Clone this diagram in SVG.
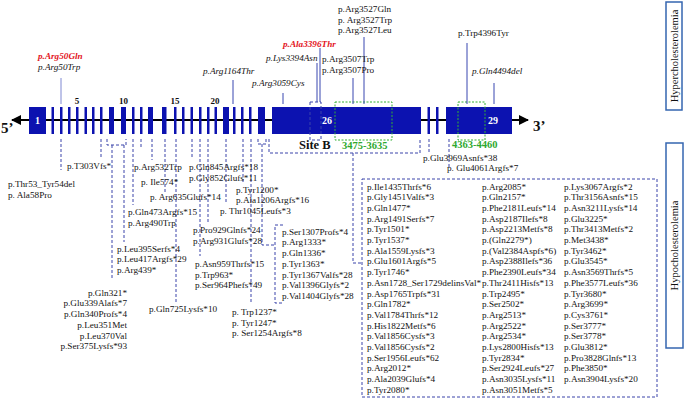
<svg xmlns="http://www.w3.org/2000/svg" width="685" height="403" viewBox="0 0 685 403">
<style>
text{font-family:"Liberation Serif","Times New Roman",serif;font-size:9.2px;fill:#111}
.i{font-style:italic}
.r{fill:#e3141c;font-weight:bold;font-style:italic}
.ex{fill:#0c12b0}
.en{fill:#fff;font-weight:bold;font-size:10px;text-anchor:middle}
.num{font-weight:bold;font-size:9px;text-anchor:middle}
.d{fill:none;stroke:#3a44aa;stroke-width:1;stroke-dasharray:3 2}
.s{stroke:#3846b0;stroke-width:1}
.g{fill:none;stroke:#33b033;stroke-width:1;stroke-dasharray:2 1.5}
.gl{fill:#2ea82e;font-weight:bold;font-size:10.5px}
.side{fill:#fff;stroke:#3566b0;stroke-width:1.5}
.sidet{font-size:10.5px;text-anchor:middle;dominant-baseline:central}
.end{font-weight:bold;font-size:15px}
</style>
<defs>
<marker id="ah" viewBox="0 0 10 10" refX="9" refY="5" markerWidth="5" markerHeight="5" orient="auto-start-reverse">
<path d="M0,0 L10,5 L0,10 z" fill="#000"/>
</marker>
</defs>

<g id="gene">
<line x1="12" y1="120" x2="528" y2="120" stroke="#000" stroke-width="2" marker-start="url(#ah)" marker-end="url(#ah)"/>
<text class="end" x="1" y="133">5’</text>
<text class="end" x="533" y="131">3’</text>
</g>

<g id="exons">
<rect class="ex" x="29" y="107" width="17" height="27"/><text class="en" x="37.5" y="124">1</text>
<rect class="ex" x="51.5" y="107" width="2.5" height="27"/>
<rect class="ex" x="60" y="107" width="2.5" height="27"/>
<rect class="ex" x="68" y="107" width="2.5" height="27"/>
<rect class="ex" x="76" y="107" width="2.5" height="27"/>
<rect class="ex" x="84.5" y="107" width="2.5" height="27"/>
<rect class="ex" x="92" y="107" width="2.5" height="27"/>
<rect class="ex" x="100" y="107" width="2.5" height="27"/>
<rect class="ex" x="109" y="107" width="5" height="27"/>
<rect class="ex" x="121" y="107" width="5" height="27"/>
<rect class="ex" x="132" y="107" width="2.5" height="27"/>
<rect class="ex" x="140" y="107" width="2.5" height="27"/>
<rect class="ex" x="148" y="107" width="5" height="27"/>
<rect class="ex" x="162" y="107" width="4.5" height="27"/>
<rect class="ex" x="174" y="107" width="2.5" height="27"/>
<rect class="ex" x="182" y="107" width="2.5" height="27"/>
<rect class="ex" x="190.5" y="107" width="2.5" height="27"/>
<rect class="ex" x="199" y="107" width="2.5" height="27"/>
<rect class="ex" x="207" y="107" width="2.5" height="27"/>
<rect class="ex" x="214.5" y="107" width="2.5" height="27"/>
<rect class="ex" x="223" y="107" width="6" height="27"/>
<rect class="ex" x="233" y="107" width="2.5" height="27"/>
<rect class="ex" x="241" y="107" width="2.5" height="27"/>
<rect class="ex" x="249" y="107" width="2.5" height="27"/>
<rect class="ex" x="258" y="107" width="7" height="27"/>
<rect class="ex" x="272" y="107" width="149" height="27"/><text class="en" x="327" y="124">26</text>
<rect class="ex" x="427.5" y="107" width="2.5" height="27"/>
<rect class="ex" x="436" y="107" width="2.5" height="27"/>
<rect class="ex" x="446" y="107" width="66" height="27"/><text class="en" x="493" y="124">29</text>
<text class="num" x="77" y="104">5</text>
<text class="num" x="123.5" y="104">10</text>
<text class="num" x="175" y="104">15</text>
<text class="num" x="215" y="104">20</text>
</g>

<g id="regions">
<rect x="310" y="102" width="11" height="38" class="d"/>
<text x="299" y="149" style="font-weight:bold;font-size:12.5px">Site B</text>
<rect x="335" y="102" width="57" height="38" class="g"/>
<text class="gl" x="342" y="149">3475-3635</text>
<rect x="458" y="102" width="27" height="38" class="g"/>
<text class="gl" x="452" y="147.5">4363-4460</text>
</g>

<g id="connectors">
<line class="s" x1="61" y1="78" x2="61" y2="104" style="stroke:#7f88d2"/>
<line class="s" x1="233" y1="80" x2="233" y2="104"/>
<line class="s" x1="283" y1="93" x2="283" y2="104"/>
<line class="s" x1="317" y1="63" x2="317" y2="102"/>
<line class="s" x1="320" y1="48" x2="320" y2="102"/>
<line class="s" x1="353" y1="78" x2="353" y2="104"/>
<line class="s" x1="364" y1="37" x2="364" y2="104"/>
<line class="s" x1="467" y1="43" x2="467" y2="104"/>
<line class="s" x1="494" y1="83" x2="494" y2="104"/>
<path class="d" d="M61,139V170"/>
<path class="d" d="M101,139V157"/>
<path class="d" d="M107,139V145H126V139M112,145V280M124,145V242"/>
<path class="d" d="M133,139V205"/>
<path class="d" d="M141,139V149"/>
<path class="d" d="M152,139V160"/>
<path class="d" d="M165,139V192"/>
<path class="d" d="M176,139V302"/>
<path class="d" d="M192,139V157"/>
<path class="d" d="M200,139V256"/>
<path class="d" d="M208,139V224"/>
<path class="d" d="M226,139V203"/>
<path class="d" d="M243,139V182"/>
<path class="d" d="M251,139V302"/>
<path class="d" d="M258,139V144H266V139M262,144V245H275"/>
<path class="d" d="M283,225H275V303H283"/>
<path class="d" d="M269,139V153H420V139"/>
<path class="d" d="M353,153V263H362"/>
<path class="d" d="M429,139V152"/>
<path class="d" d="M449,139V167"/>
</g>

<g id="hyper-variants">
<text class="r" x="38" y="58.5">p.Arg50Gln</text>
<text class="i" x="38" y="70">p.Arg50Trp</text>
<text class="i" x="203" y="73.5">p.Arg1164Thr</text>
<text class="i" x="252" y="86">p.Arg3059Cys</text>
<text class="i" x="266" y="61">p.Lys3394Asn</text>
<text class="r" x="283" y="47">p.Ala3396Thr</text>
<text x="322" y="62"><tspan x="322" y="62">p.Arg3507Trp</tspan><tspan x="322" y="73">p.Arg3507Pro</tspan></text>
<text x="338" y="12"><tspan x="338" y="12">p.Arg3527Gln</tspan><tspan x="338" y="22.5">p. Arg3527Trp</tspan><tspan x="338" y="33">p.Arg3527Leu</tspan></text>
<text x="458" y="36">p.Trp4396Tyr</text>
<text class="i" x="472" y="74">p.Gln4494del</text>
</g>

<g id="hypo-variants">
<text><tspan x="8" y="187">p.Thr53_Tyr54del</tspan><tspan x="8" y="198">p. Ala58Pro</tspan></text>
<text x="67" y="169">p.T303Vfs*</text>
<text x="134" y="170">p.Arg532Trp</text>
<text x="141" y="185">p. Ile574*</text>
<text x="150" y="200">p. Arg635Glufs*14</text>
<text><tspan x="128" y="214.5">p.Gln473Argfs*15</tspan><tspan x="128" y="225.5">p.Arg490Trp</tspan></text>
<text><tspan x="117" y="251.5">p.Leu395Serfs*4</tspan><tspan x="117" y="262">p.Leu417Argfs*29</tspan><tspan x="117" y="272.5">p.Arg439*</tspan></text>
<text style="text-anchor:end"><tspan x="127" y="295.5">p.Gln321*</tspan><tspan x="127" y="306.3">p.Glu339Alafs*7</tspan><tspan x="127" y="317">p.Gln340Profs*4</tspan><tspan x="127" y="327.8">p.Leu351Met</tspan><tspan x="127" y="338.6">p.Leu370Val</tspan><tspan x="127" y="349.4">p.Ser375Lysfs*93</tspan></text>
<text x="149" y="311.5">p.Gln725Lysfs*10</text>
<text><tspan x="189" y="170">p.Gln845Argfs*18</tspan><tspan x="189" y="181">p.Gly852Glufs*11</tspan></text>
<text><tspan x="193" y="233">p.Pro929Glnfs*24</tspan><tspan x="193" y="244">p.Arg931Glufs*28</tspan></text>
<text><tspan x="195" y="266.5">p.Asn959Thrfs*15</tspan><tspan x="195" y="277.5">p.Trp963*</tspan><tspan x="195" y="288.3">p.Ser964Phefs*49</tspan></text>
<text><tspan x="236" y="192.5">p.Tyr1200*</tspan><tspan x="236" y="203">p.Ala1206Argfs*16</tspan></text>
<text x="220" y="214">p. Thr1045Leufs*3</text>
<text><tspan x="282" y="234.5">p.Ser1307Profs*4</tspan><tspan x="282" y="245.3">p.Arg1333*</tspan><tspan x="282" y="256">p.Gln1336*</tspan><tspan x="282" y="266.8">p.Tyr1363*</tspan><tspan x="282" y="277.6">p.Tyr1367Valfs*28</tspan><tspan x="282" y="288.4">p.Val1396Glyfs*2</tspan><tspan x="282" y="299.2">p.Val1404Glyfs*28</tspan></text>
<text><tspan x="232" y="315">p. Trp1237*</tspan><tspan x="232" y="325.7">p. Tyr1247*</tspan><tspan x="232" y="336.4">p. Ser1254Argfs*8</tspan></text>
<text x="423" y="160.5">p.Glu3969Asnfs*38</text>
<text x="447" y="171">p. Glu4061Argfs*7</text>
</g>

<g id="truncating-box">
<rect x="362" y="179" width="295" height="218" class="d"/>
<text><tspan x="367" y="189.5">p.Ile1435Thrfs*6</tspan><tspan x="367" y="200.2">p.Gly1451Valfs*3</tspan><tspan x="367" y="210.9">p.Gln1477*</tspan><tspan x="367" y="221.6">p.Arg1491Serfs*7</tspan><tspan x="367" y="232.3">p.Tyr1501*</tspan><tspan x="367" y="243">p.Tyr1537*</tspan><tspan x="367" y="253.7">p.Ala1559Lysfs*3</tspan><tspan x="367" y="264.4">p.Glu1601Argfs*5</tspan><tspan x="367" y="275.1">p.Tyr1746*</tspan><tspan x="367" y="285.8">p.Asn1728_Ser1729delinsVal*</tspan><tspan x="367" y="296.5">p.Asp1765Trpfs*31</tspan><tspan x="367" y="307.2">p.Gln1782*</tspan><tspan x="367" y="317.9">p.Val1784Thrfs*12</tspan><tspan x="367" y="328.6">p.His1822Metfs*6</tspan><tspan x="367" y="339.3">p.Val1856Cysfs*3</tspan><tspan x="367" y="350">p.Val1856Cysfs*2</tspan><tspan x="367" y="360.7">p.Ser1956Leufs*62</tspan><tspan x="367" y="371.4">p.Arg2012*</tspan><tspan x="367" y="382.1">p.Ala2039Glufs*4</tspan><tspan x="367" y="392.8">p.Tyr2080*</tspan></text>
<text><tspan x="482" y="189.5">p.Arg2085*</tspan><tspan x="482" y="200.2">p.Gln2157*</tspan><tspan x="482" y="210.9">p.Phe2181Leufs*14</tspan><tspan x="482" y="221.6">p.Asp2187Ilefs*8</tspan><tspan x="482" y="232.3">p.Asp2213Metfs*8</tspan><tspan x="482" y="243">p.(Gln2279*)</tspan><tspan x="482" y="253.7">p.(Val2384Aspfs*6)</tspan><tspan x="482" y="264.4">p.Asp2388Ilefs*36</tspan><tspan x="482" y="275.1">p.Phe2390Leufs*34</tspan><tspan x="482" y="285.8">p.Thr2411Hisfs*13</tspan><tspan x="482" y="296.5">p.Trp2495*</tspan><tspan x="482" y="307.2">p.Ser2502*</tspan><tspan x="482" y="317.9">p.Arg2513*</tspan><tspan x="482" y="328.6">p.Arg2522*</tspan><tspan x="482" y="339.3">p.Arg2534*</tspan><tspan x="482" y="350">p.Lys2800Hisfs*13</tspan><tspan x="482" y="360.7">p.Tyr2834*</tspan><tspan x="482" y="371.4">p.Ser2924Leufs*27</tspan><tspan x="482" y="382.1">p.Asn3035Lysfs*11</tspan><tspan x="482" y="392.8">p.Asn3051Metfs*5</tspan></text>
<text><tspan x="564" y="189.5">p.Lys3067Argfs*2</tspan><tspan x="564" y="200.2">p.Thr3156Asnfs*15</tspan><tspan x="564" y="210.9">p.Asn3211Lysfs*14</tspan><tspan x="564" y="221.6">p.Glu3225*</tspan><tspan x="564" y="232.3">p.Thr3413Metfs*2</tspan><tspan x="564" y="243">p.Met3438*</tspan><tspan x="564" y="253.7">p.Tyr3462*</tspan><tspan x="564" y="264.4">p.Glu3545*</tspan><tspan x="564" y="275.1">p.Asn3569Thrfs*5</tspan><tspan x="564" y="285.8">p.Phe3577Leufs*36</tspan><tspan x="564" y="296.5">p.Tyr3680*</tspan><tspan x="564" y="307.2">p.Arg3699*</tspan><tspan x="564" y="317.9">p.Cys3761*</tspan><tspan x="564" y="328.6">p.Ser3777*</tspan><tspan x="564" y="339.3">p.Ser3778*</tspan><tspan x="564" y="350">p.Glu3812*</tspan><tspan x="564" y="360.7">p.Pro3828Glnfs*13</tspan><tspan x="564" y="371.4">p.Phe3850*</tspan><tspan x="564" y="382.1">p.Asn3904Lysfs*20</tspan></text>
</g>

<g id="hyper-label">
<rect class="side" x="666" y="2" width="16" height="108"/>
<text class="sidet" x="674" y="56" transform="rotate(-90 674 56)">Hypercholesterolemia</text>
</g>
<g id="hypo-label">
<rect class="side" x="666" y="143" width="17" height="205"/>
<text class="sidet" x="674.5" y="245.5" transform="rotate(-90 674.5 245.5)">Hypocholesterolemia</text>
</g>
</svg>
